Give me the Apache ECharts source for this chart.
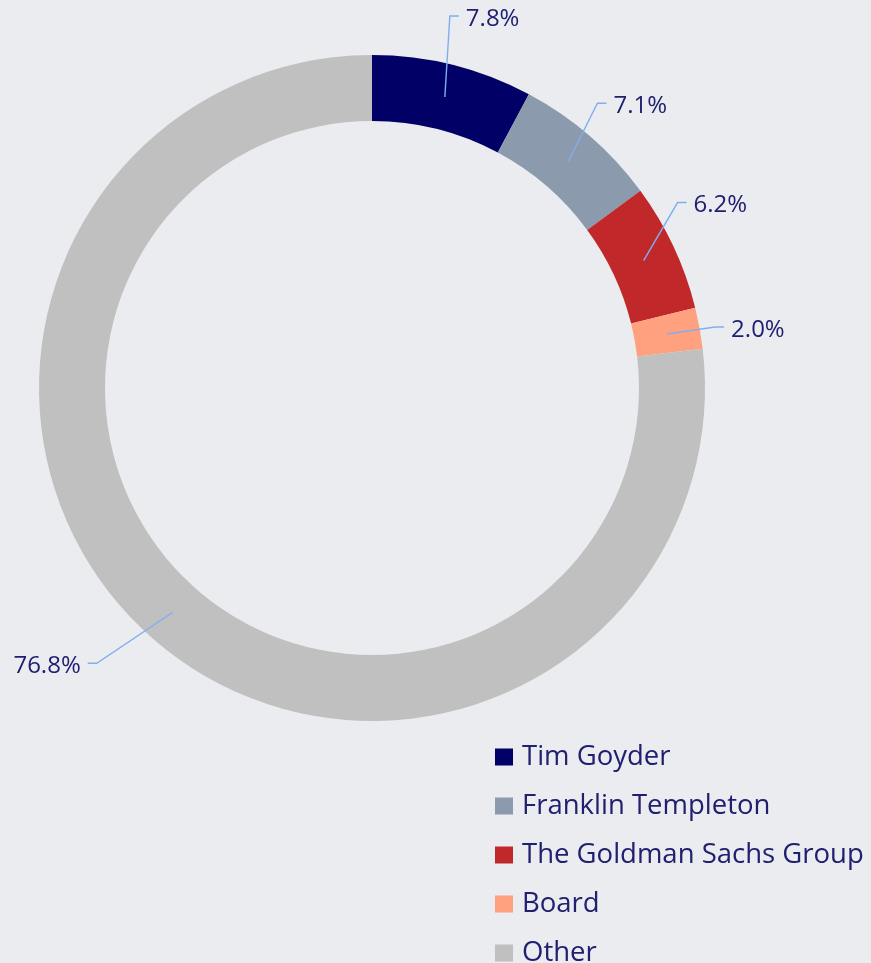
<!DOCTYPE html>
<html>
<head>
<meta charset="utf-8">
<script src="https://cdn.jsdelivr.net/npm/echarts@6/dist/echarts.min.js"></script>
<style>
  html, body { margin: 0; padding: 0; background: #ebecef; }
  #chart { width: 871px; height: 963px; }
</style>
</head>
<body>
<div id="chart"></div>
<script>
const names = ['Tim Goyder', 'Franklin Templeton', 'The Goldman Sachs Group', 'Board', 'Other']
const shares = [7.8, 7.1, 6.2, 2.0, 76.8]
const colors = ['#000066', '#8b9aad', '#c0282a', '#ffa07f', '#c0c0c0']

// ring geometry
const CX = 372
const CY = 388
const R_IN = 267
const R_OUT = 333
const R_MID = (R_IN + R_OUT) / 2

// leader line elbow offsets from ring middle (label placement)
const labelOffsets = [[5, -81], [29, -58], [34, -58], [48, -7], [-76, 51]]

const chart = echarts.init(document.getElementById('chart'))

const ringData = names.map((n, i) => ({
  name: n,
  value: shares[i],
  itemStyle: { color: colors[i] },
}))

const option = {
  backgroundColor: '#ebecef',
  animation: false,
  legend: {
    orient: 'vertical',
    left: 490,
    top: 738,
    height: 320,
    itemWidth: 18,
    itemHeight: 17,
    itemGap: 21,
    icon: 'rect',
    data: names,
    textStyle: {
      fontFamily: 'Open Sans',
      fontSize: 27.5,
      lineHeight: 27,
      color: '#202070',
      padding: [0, 0, 0, 4],
    },
  },
  series: [
    {
      // the ring itself
      type: 'pie',
      z: 2,
      center: [CX, CY],
      radius: [R_IN, R_OUT],
      startAngle: 90,
      clockwise: true,
      label: { show: false },
      labelLine: { show: false },
      data: ringData,
    },
    {
      // transparent copy that carries labels + leader lines above the ring
      type: 'pie',
      z: 3,
      silent: true,
      center: [CX, CY],
      radius: [R_IN, R_OUT],
      startAngle: 90,
      clockwise: true,
      avoidLabelOverlap: false,
      itemStyle: { color: 'rgba(0,0,0,0)' },
      data: names.map((n, i) => ({ name: n, value: shares[i] })),
      label: {
        show: true,
        position: 'outside',
        formatter: (p) => p.value.toFixed(1) + '%',
        fontFamily: 'Open Sans',
        fontSize: 24,
        color: '#202070',
      },
      labelLine: {
        show: true,
        showAbove: true,
        length: 10,
        length2: 10,
        lineStyle: { color: '#80aef0', width: 1.4 },
      },
      labelLayout: (params) => {
        if (params.seriesIndex !== 1) return {}
        const p0 = params.labelLinePoints[0]
        const ang = Math.atan2(p0[1] - CY, p0[0] - CX)
        const start = [CX + R_MID * Math.cos(ang), CY + R_MID * Math.sin(ang)]
        const off = labelOffsets[params.dataIndex]
        const elbow = [start[0] + off[0], start[1] + off[1]]
        const dir = off[0] >= 0 ? 1 : -1
        const end = [elbow[0] + dir * 9, elbow[1]]
        return {
          x: end[0] + dir * 7,
          y: elbow[1] + 3,
          align: dir > 0 ? 'left' : 'right',
          verticalAlign: 'middle',
          labelLinePoints: [start, elbow, end],
        }
      },
    },
  ],
}

chart.setOption(option)
</script>
</body>
</html>
